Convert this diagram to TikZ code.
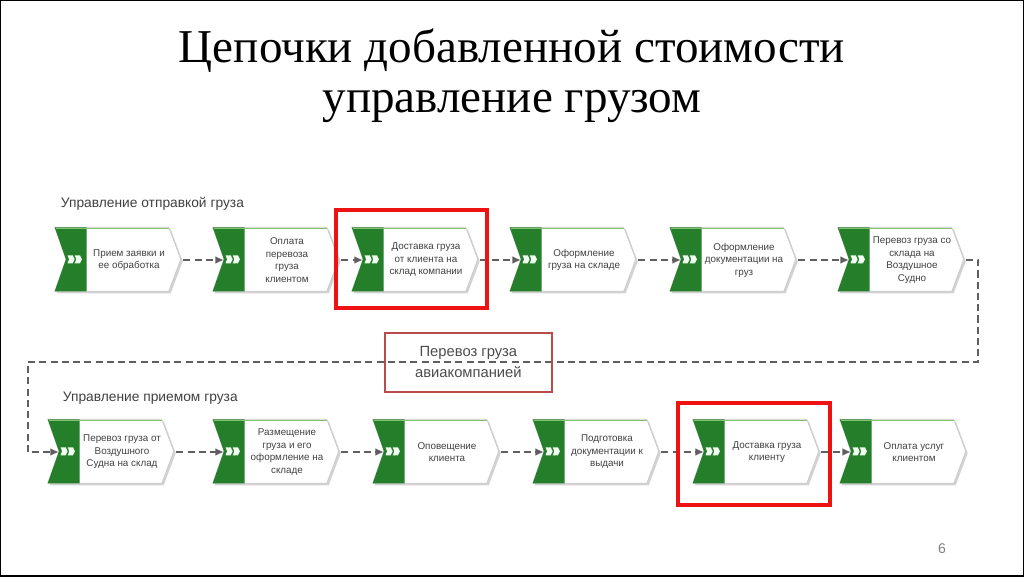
\documentclass[tikz,border=0pt]{standalone}
\usepackage{fontspec}
\setmainfont{Liberation Serif}
\setsansfont{Liberation Sans}
\usetikzlibrary{arrows.meta,backgrounds}

\definecolor{procgreen}{RGB}{36,126,42}
\definecolor{procgreenlight}{RGB}{130,195,110}
\definecolor{textgray}{RGB}{65,65,65}
\definecolor{hlred}{RGB}{238,18,18}
\definecolor{airred}{RGB}{185,75,75}
\definecolor{flowgray}{RGB}{95,95,95}

\tikzset{
  proc/.style={
    minimum width=3.2cm, minimum height=1.65cm, inner sep=0pt,
    font=\sffamily\fontsize{7}{8.9}\selectfont, text=textgray,
    execute at begin node={\hspace*{5mm}\begin{minipage}{2.1cm}\centering},
    execute at end node={\end{minipage}}
  },
  flow/.style={draw=flowgray, line width=1.4pt, dash pattern=on 5pt off 3pt, ->},
  hl/.style={draw=hlred, line width=2.6pt},
  airbox/.style={draw=airred, line width=0.9pt, minimum width=4.175cm, minimum height=1.475cm,
    align=center, font=\sffamily\fontsize{10.5}{15}\selectfont, text=black!70},
  seclabel/.style={anchor=west, font=\sffamily\fontsize{9.8}{12}\selectfont, text=black!75},
}

\begin{document}
\begin{tikzpicture}[>={Latex[length=6pt,width=5.5pt]}]
\useasboundingbox (0,0) rectangle (25.6,14.4);
\draw[black, line width=1.2pt] (0,0) rectangle (25.6,14.4);

% ============================================
% TITLE
% ============================================
\node[align=center, font=\fontsize{33.5}{35.5}\selectfont] (title) at (12.8,12.5)
  {Цепочки добавленной стоимости\\управление грузом};

% ============================================
% UPPER CHAIN – SENDING
% ============================================
\node[seclabel] (lblsend) at (1.4,9.3) {Управление отправкой груза};
\node[proc] (s1) at (2.975,7.9) {Прием заявки и\\ее обработка};
\node[proc] (s2) at (6.925,7.9) {Оплата\\перевоза\\груза\\клиентом};
\node[proc] (s3) at (10.4,7.9) {Доставка груза\\от клиента на\\склад компании};
\node[proc] (s4) at (14.35,7.9) {Оформление\\груза на складе};
\node[proc] (s5) at (18.35,7.9) {Оформление\\документации на\\груз};
\node[proc] (s6) at (22.55,7.9) {Перевоз груза со\\склада на\\Воздушное\\Судно};

\foreach \a/\b in {s1/s2,s2/s3,s3/s4,s4/s5,s5/s6}
  \draw[flow] (\a.east) -- ([xshift=2.8mm]\b.west);

% ============================================
% LOWER CHAIN – RECEIVING
% ============================================
\node[seclabel] (lblrecv) at (1.45,4.45) {Управление приемом груза};
\node[proc] (r1) at (2.8,3.1) {Перевоз груза от\\Воздушного\\Судна на склад};
\node[proc] (r2) at (6.925,3.1) {Размещение\\груза и его\\оформление на\\складе};
\node[proc] (r3) at (10.925,3.1) {Оповещение\\клиента};
\node[proc] (r4) at (14.925,3.1) {Подготовка\\документации к\\выдачи};
\node[proc] (r5) at (18.925,3.1) {Доставка груза\\клиенту};
\node[proc] (r6) at (22.6,3.1) {Оплата услуг\\клиентом};

\foreach \a/\b in {r1/r2,r2/r3,r3/r4,r4/r5,r5/r6}
  \draw[flow] (\a.east) -- ([xshift=2.8mm]\b.west);

% process shapes behind the texts
\begin{scope}[on background layer]
  \foreach \n in {s1,s2,s3,s4,s5,s6,r1,r2,r3,r4,r5,r6}{
    \begin{scope}[shift={(\n.south west)}]
      % shadow
      \fill[gray!35] (0.05,0) -- (2.9,0) -- (3.2,0.8) -- (2.9,1.6) -- (0.05,1.6) -- (0.33,0.8) -- cycle;
      % white body
      \filldraw[fill=white, draw=gray!45, line width=0.4pt] (0,0.05) -- (2.85,0.05) -- (3.15,0.85)
        -- (2.85,1.65) -- (0,1.65) -- (0.28,0.85) -- cycle;
      % green head
      \fill[procgreen] (0,0.05) -- (0.8,0.05) -- (0.8,1.65) -- (0,1.65) -- (0.28,0.85) -- cycle;
      \draw[procgreenlight, line width=1pt] (0.02,1.62) -- (2.85,1.62);
      % icon
      \foreach \i in {0.32,0.5}
        \fill[green!6] (\i,0.75) -- (\i+0.13,0.75) -- (\i+0.18,0.85) -- (\i+0.13,0.95)
          -- (\i,0.95) -- (\i+0.04,0.85) -- cycle;
    \end{scope}
  }
\end{scope}

% return path between the chains
\coordinate (back) at (0.7,5.35);
\draw[flow] (s6.east) -- ++(0.3,0) |- (back) |- ([xshift=2.8mm]r1.west);
\node[airbox] (air) at (11.71,5.34) {Перевоз груза\\авиакомпанией};

% highlights
\draw[hl] ([shift={(-0.4,0.425)}]s3.north west) rectangle ([shift={(0.175,-0.375)}]s3.south east);
\draw[hl] ([shift={(-0.375,0.4)}]r5.north west) rectangle ([shift={(0.225,-0.5)}]r5.south east);

\node[font=\sffamily\fontsize{10}{12}\selectfont, text=black!50] (pnum) at (23.55,0.675) {6};
\end{tikzpicture}
\end{document}
